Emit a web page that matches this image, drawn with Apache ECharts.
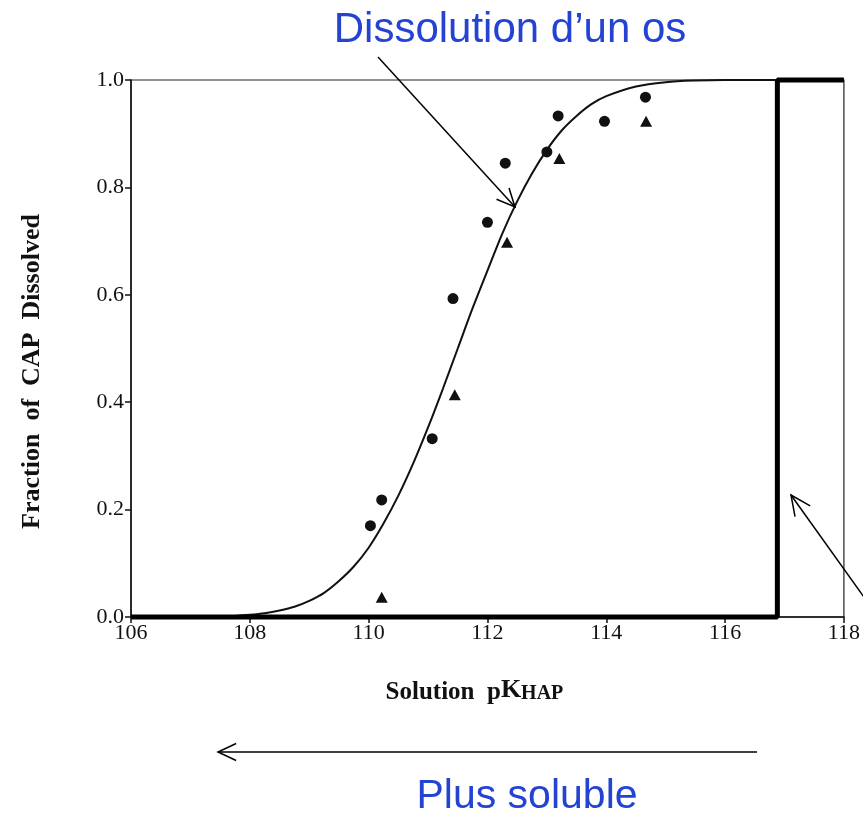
<!DOCTYPE html>
<html>
<head>
<meta charset="utf-8">
<script src="https://cdn.jsdelivr.net/npm/echarts@6/dist/echarts.min.js"></script>
<style>html,body{margin:0;padding:0;background:#fff}#c{width:863px;height:813px}</style>
</head>
<body>
<div id="c"></div>
<script>
// ---- data ----
var xTicks = [106, 108, 110, 112, 114, 116, 118];
var yTicks = [0.0, 0.2, 0.4, 0.6, 0.8, 1.0];
var circX = [110.03, 110.22, 111.07, 111.42, 112.0, 112.3, 113.0, 113.19, 113.97, 114.66];
var circY = [0.17, 0.218, 0.332, 0.593, 0.735, 0.845, 0.866, 0.933, 0.923, 0.968];
var triX = [110.22, 111.45, 112.33, 113.21, 114.67];
var triY = [0.037, 0.414, 0.698, 0.854, 0.923];
var curveX = [106, 107, 107.5, 107.75, 108, 108.25, 108.5, 108.75, 109, 109.25, 109.5, 109.75, 110, 110.25, 110.5, 110.75, 111, 111.25, 111.5, 111.75, 112, 112.25, 112.5, 112.75, 113, 113.25, 113.5, 113.75, 114, 114.5, 115, 115.5, 116, 116.9];
var curveY = [0, 0, 0.001, 0.002, 0.004, 0.007, 0.012, 0.019, 0.03, 0.045, 0.067, 0.094, 0.129, 0.174, 0.226, 0.286, 0.353, 0.425, 0.5, 0.575, 0.645, 0.714, 0.774, 0.826, 0.87, 0.906, 0.933, 0.955, 0.97, 0.988, 0.996, 0.999, 1.0, 1.0];
var stepX = [106, 116.88, 116.88, 118];
var stepY = [0, 0, 1, 1];
var titleTop = 'Dissolution d\u2019un os';
var titleBottom = 'Plus soluble';

function zip(a, b) { return a.map(function (v, i) { return [v, b[i]]; }); }

var chart = echarts.init(document.getElementById('c'), null, {renderer: 'canvas'});
var serif = '"Liberation Serif", "DejaVu Serif", serif';
var sans = '"Liberation Sans", Arial, sans-serif';
var blue = '#2443d3';

function arrow(tip, from, len, ang) {
  var a = Math.atan2(from[1] - tip[1], from[0] - tip[0]);
  var r = ang * Math.PI / 180;
  return [
    [tip[0] + len * Math.cos(a + r), tip[1] + len * Math.sin(a + r)],
    tip,
    [tip[0] + len * Math.cos(a - r), tip[1] + len * Math.sin(a - r)]
  ];
}
var ln = {stroke: '#000', lineWidth: 1.5, fill: null};
var a1s = [378, 57], a1t = [515, 207];
var a2s = [757, 752], a2t = [218, 752];
var a3s = [866, 600], a3t = [791, 495];

chart.setOption({
  animation: false,
  backgroundColor: '#fff',
  grid: {left: 131, right: 16, top: 80, bottom: 196, show: true, borderColor: '#222', borderWidth: 1.2, backgroundColor: 'transparent'},
  xAxis: {
    type: 'value', min: xTicks[0], max: xTicks[xTicks.length - 1], interval: 2,
    axisLine: {onZero: false, lineStyle: {color: '#111', width: 1.5}},
    axisTick: {length: 6, lineStyle: {color: '#111', width: 1.5}},
    axisLabel: {margin: 5, fontFamily: serif, fontSize: 22, color: '#111'},
    splitLine: {show: false},
    name: '{a|Solution  p}{k|K}{h|HAP}',
    nameLocation: 'middle', nameGap: 60,
    nameTextStyle: {
      padding: [0, 26, 0, 0],
      rich: {
        a: {fontFamily: serif, fontWeight: 'bold', fontSize: 25, color: '#111', verticalAlign: 'bottom'},
        k: {fontFamily: serif, fontWeight: 'bold', fontSize: 26, color: '#111', verticalAlign: 'bottom', padding: [0, 0, 2, 0]},
        h: {fontFamily: serif, fontWeight: 'bold', fontSize: 20, color: '#111', verticalAlign: 'bottom', padding: [0, 0, 1, 0]}
      }
    }
  },
  yAxis: {
    type: 'value', min: 0, max: 1, interval: 0.2,
    axisLine: {onZero: false, lineStyle: {color: '#111', width: 1.5}},
    axisTick: {length: 6, lineStyle: {color: '#111', width: 1.5}},
    axisLabel: {margin: 7, fontFamily: serif, fontSize: 22, color: '#111', formatter: function (v) { return v.toFixed(1); }},
    splitLine: {show: false},
    name: 'Fraction  of  CAP  Dissolved',
    nameLocation: 'middle', nameRotate: 90, nameGap: 86,
    nameTextStyle: {fontFamily: serif, fontWeight: 'bold', fontSize: 26, color: '#111', padding: [0, 46, 0, 0]}
  },
  series: [
    {type: 'line', data: zip(curveX, curveY), smooth: 0.3, symbol: 'none', clip: false,
     lineStyle: {color: '#111', width: 2}, z: 3},
    {type: 'line', data: zip(stepX, stepY), symbol: 'none', clip: false,
     lineStyle: {color: '#000', width: 5}, z: 4},
    {type: 'scatter', data: zip(circX, circY), symbol: 'circle', symbolSize: 11,
     itemStyle: {color: '#111', opacity: 1}, z: 5},
    {type: 'scatter', data: zip(triX, triY), symbol: 'triangle', symbolSize: [12, 11],
     itemStyle: {color: '#111', opacity: 1}, z: 5}
  ],
  graphic: [
    {type: 'text', x: 510, y: 30, style: {text: titleTop, fill: blue, fontSize: 42, fontFamily: sans, textAlign: 'center', textVerticalAlign: 'middle'}},
    {type: 'text', x: 527, y: 797, style: {text: titleBottom, fill: blue, fontSize: 41, fontFamily: sans, textAlign: 'center', textVerticalAlign: 'middle'}},
    {type: 'polyline', shape: {points: [a1s, a1t]}, style: ln, z: 10},
    {type: 'polyline', shape: {points: arrow(a1t, a1s, 20, 25)}, style: ln, z: 10},
    {type: 'polyline', shape: {points: [a2s, a2t]}, style: ln, z: 10},
    {type: 'polyline', shape: {points: arrow(a2t, a2s, 20, 25)}, style: ln, z: 10},
    {type: 'polyline', shape: {points: [a3s, a3t]}, style: ln, z: 10},
    {type: 'polyline', shape: {points: arrow(a3t, a3s, 22, 25)}, style: ln, z: 10}
  ]
});
</script>
</body>
</html>
